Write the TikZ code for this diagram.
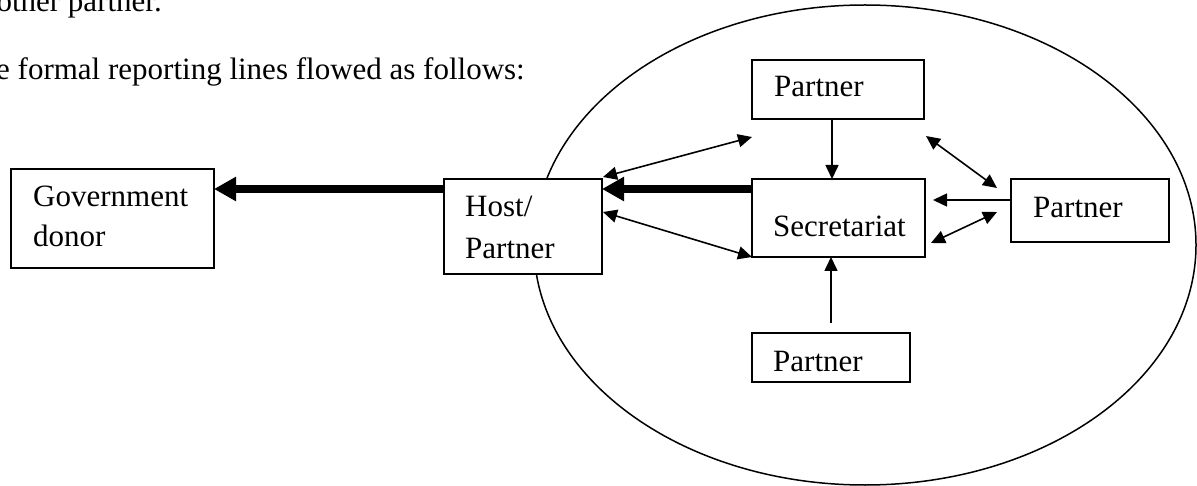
\documentclass[tikz,border=0pt]{standalone}
\usepackage{fontspec}
\setmainfont{Liberation Serif}
\usetikzlibrary{arrows.meta,shapes.geometric,calc}
\begin{document}
\begin{tikzpicture}[x=1pt,y=-1pt,
  box/.style={draw,line width=1.5pt,fill=white,inner sep=0pt,outer sep=0pt,anchor=north west},
  txt/.style={inner sep=0pt,anchor=base west,font=\fontsize{31}{37}\selectfont},
  arr/.style={line width=1.6pt,-{Triangle[length=14pt,width=13pt]}},
  darr/.style={line width=1.6pt,{Triangle[length=14pt,width=13pt]}-{Triangle[length=14pt,width=13pt]}},
  bigarr/.style={line width=7.5pt,-{Triangle[length=22pt,width=23pt]}}]
\useasboundingbox (0,0) rectangle (1197,486);
% oval
\node[draw,ellipse,line width=1.5pt,inner sep=0pt,outer sep=0pt,minimum width=662pt,minimum height=480pt] (oval) at (865,245) {};
% boxes
\node[box,minimum width=203pt,minimum height=99pt] (gov) at (11,169) {};
\node[box,minimum width=158pt,minimum height=95pt] (host) at (444,179) {};
\node[box,minimum width=172pt,minimum height=59pt] (ptop) at (752,60) {};
\node[box,minimum width=173pt,minimum height=78pt] (sec) at (752,179) {};
\node[box,minimum width=158pt,minimum height=63pt] (pright) at (1011,179) {};
\node[box,minimum width=158pt,minimum height=49pt] (pbot) at (752,333) {};
% texts
\node[txt,anchor=base east] (l1) at (162,12) {other partner.};
\node[txt] (l2) at (-4,80) {e formal reporting lines flowed as follows:};
\node[txt] (tg1) at (33,207) {Government};
\node[txt] (tg2) at (33,247) {donor};
\node[txt] (th1) at (465,217) {Host/};
\node[txt] (th2) at (465,259) {Partner};
\node[txt] (tpt) at (774,97) {Partner};
\node[txt] (tsec) at (773,237) {Secretariat};
\node[txt] (tpr) at (1033,218) {Partner};
\node[txt] (tpb) at (773,371) {Partner};
% thick arrows
\coordinate (h1) at ([yshift=-10pt]host.north west);
\draw[bigarr] (h1) -- (h1 -| gov.east);
\coordinate (s1) at ([yshift=-10pt]sec.north west);
\draw[bigarr] (s1) -- (s1 -| host.east);
% vertical arrows
\coordinate (t1) at ([xshift=-6pt]ptop.south);
\draw[arr] (t1) -- (t1 |- sec.north);
\coordinate (b1) at ([yshift=10pt]pbot.north);
\draw[arr] (b1) -- (b1 |- sec.south);
% right partner arrow
\coordinate (r1) at ([yshift=-21pt]pright.north west);
\draw[arr] (r1) -- ($(r1 -| sec.east)+(8,0)$);
% double arrows
\draw[darr] ($(host.north east)+(1,-2)$) -- ($(ptop.south west)+(0,18)$);
\draw[darr] ($(host.north east)+(1,33)$) -- (sec.south west);
\draw[darr] ($(ptop.south east)+(2,17)$) -- ($(pright.north west)+(-14,9)$);
\draw[darr] ($(pright.north west)+(-14,33)$) -- ($(sec.south east)+(6,-14)$);
\end{tikzpicture}
\end{document}
